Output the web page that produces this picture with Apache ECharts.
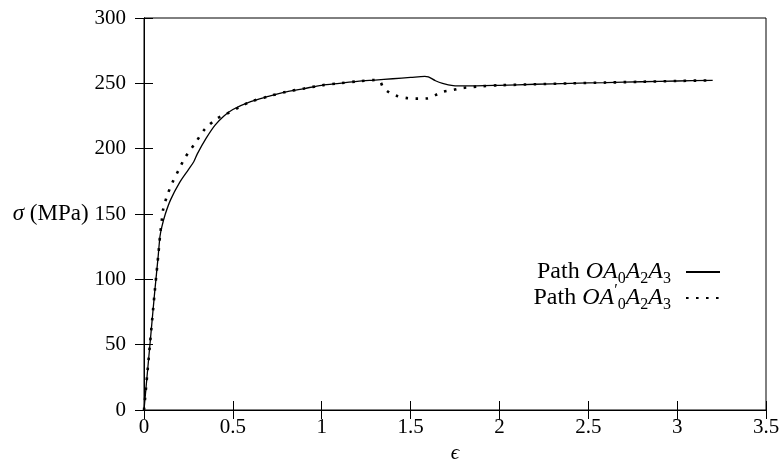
<!DOCTYPE html>
<html>
<head>
<meta charset="utf-8">
<script src="https://cdn.jsdelivr.net/npm/echarts@6/dist/echarts.min.js"></script>
<style>html,body{margin:0;padding:0;background:#fff;}#c{width:782px;height:461px;}</style>
</head>
<body>
<div id="c"></div>
<script>
// strain values and stresses (MPa)
const solidX = [0,0.02,0.04,0.06,0.08,0.09,0.1,0.12,0.15,0.2,0.25,0.28,0.3,0.35,0.4,0.45,0.5,0.6,0.7,0.8,0.9,1.0,1.1,1.2,1.3,1.4,1.5,1.58,1.6,1.64,1.68,1.74,1.8,2.0,2.2,2.4,2.6,2.8,3.0,3.2];
const solidY = [0,30,60,90,118,133,140,150,161,174,184,190,196,208,218,225,230,236,240,243.5,246,248.5,250,251.5,252.5,253.5,254.5,255.3,255,252,250,248.3,248,248.5,249.3,250,250.6,251.2,251.8,252.3];
const dottedX = [0,0.02,0.04,0.06,0.08,0.09,0.1,0.107,0.13,0.163,0.2,0.23,0.26,0.287,0.343,0.41,0.456,0.54,0.6,0.7,0.8,0.9,1.0,1.1,1.2,1.3,1.33,1.345,1.38,1.42,1.48,1.54,1.59,1.64,1.68,1.74,1.79,1.85,1.9,2.0,2.2,2.4,2.6,2.8,3.0,3.2];
const dottedY = [0,30,60,90,118,133,145,153,164,175,185,193,199,204,215,223,226,232,236,240,243.5,246,248.5,250,251.5,252.5,251,247,243,240.5,238.7,238.3,238.4,241,243.5,245,246.4,247.2,247.8,248.5,249.3,250,250.6,251.2,251.8,252.3];
const xTicks = [0,0.5,1,1.5,2,2.5,3,3.5];
const yTicks = [0,50,100,150,200,250,300];
const seriesNames = ['p1','p2'];

const FONT = 'Liberation Serif';
const rich = {
  n:{fontFamily:FONT,fontSize:24,color:'#000',lineHeight:22},
  i:{fontFamily:FONT,fontSize:24,fontStyle:'italic',color:'#000',lineHeight:22},
  s:{fontFamily:FONT,fontSize:16,color:'#000',lineHeight:10,padding:[14,0,0,0]},
  p:{fontFamily:FONT,fontSize:16,color:'#000',lineHeight:10,padding:[0,0,14,0]},
  g:{width:10,lineHeight:22}
};
const richY = {
  n:{fontFamily:FONT,fontSize:23,color:'#000'},
  i:{fontFamily:FONT,fontSize:23,fontStyle:'italic',color:'#000'}
};
const legendText = {
  p1:'{n|Path }{i|OA}{s|0}{i|A}{s|2}{i|A}{s|3}{g|}',
  p2:'{n|Path }{i|OA}{p|′}{s|0}{i|A}{s|2}{i|A}{s|3}{g|}'
};

const chart = echarts.init(document.getElementById('c'));
const zip = (xs, ys) => xs.map((x,i)=>[x,ys[i]]);
const tickCommon = {show:true,inside:true,length:9,lineStyle:{color:'#000',width:1}};
chart.setOption({
  animation:false,
  backgroundColor:'#fff',
  grid:{left:144,right:16,top:18,bottom:51,show:true,borderColor:'#000',borderWidth:1,containLabel:false,outerBoundsMode:'none'},
  legend:{
    orient:'vertical',right:56,top:252,align:'right',itemGap:-4,itemWidth:34,itemHeight:12,
    data:seriesNames,
    itemStyle:{color:'rgba(0,0,0,0)',borderColor:'rgba(0,0,0,0)',borderWidth:0},
    formatter:(n)=>legendText[n],
    textStyle:{rich:rich}
  },
  xAxis:[{
    type:'value',min:0,max:3.5,interval:0.5,
    axisLine:{show:true,lineStyle:{color:'#000'}},
    axisTick:tickCommon,splitLine:{show:false},
    axisLabel:{margin:7,fontFamily:FONT,fontSize:21,color:'#000',formatter:(v)=>String(v)},
    name:'ϵ',nameLocation:'middle',nameGap:33,
    nameTextStyle:{fontFamily:FONT,fontSize:21,fontStyle:'italic',color:'#000'}
  },{
    type:'value',min:0,max:3.5,interval:0.5,position:'top',
    axisLine:{show:true,lineStyle:{color:'#000'}},axisTick:tickCommon,axisLabel:{show:false},splitLine:{show:false}
  }],
  yAxis:[{
    type:'value',min:0,max:300,interval:50,
    axisLine:{show:true,lineStyle:{color:'#000'}},
    axisTick:tickCommon,splitLine:{show:false},
    axisLabel:{margin:18,fontFamily:FONT,fontSize:21,color:'#000'},
    name:'{i|σ}{n| (MPa)}',nameLocation:'middle',nameRotate:0,nameGap:47,
    nameTextStyle:{rich:richY,align:'right'}
  },{
    type:'value',min:0,max:300,interval:50,position:'right',
    axisLine:{show:true,lineStyle:{color:'#000'}},axisTick:tickCommon,axisLabel:{show:false},splitLine:{show:false}
  }],
  series:[{
    name:'p1',type:'line',data:zip(solidX,solidY),smooth:0.3,showSymbol:false,symbol:'none',
    lineStyle:{color:'#000',width:1.3},itemStyle:{color:'#000'},z:3
  },{
    name:'p2',type:'line',data:zip(dottedX,dottedY),smooth:0.3,showSymbol:false,symbol:'none',
    lineStyle:{color:'#000',width:2.6,type:[2.6,7.4],cap:'butt'},itemStyle:{color:'#000'},z:2
  }]
});
</script>
</body>
</html>
